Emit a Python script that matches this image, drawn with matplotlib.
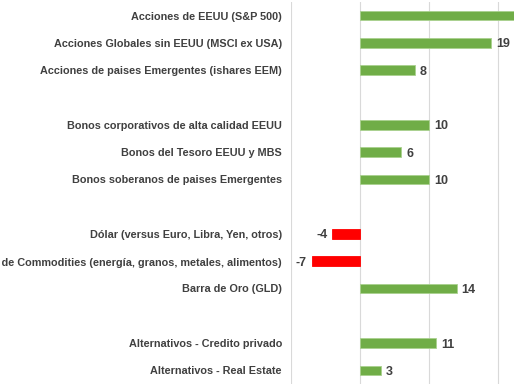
import matplotlib
matplotlib.use("Agg")
import matplotlib.pyplot as plt
import numpy as np

categories = [
    "Acciones de EEUU (S&P 500)",
    "Acciones Globales sin EEUU (MSCI ex USA)",
    "Acciones de paises Emergentes (ishares EEM)",
    "",
    "Bonos corporativos de alta calidad EEUU",
    "Bonos del Tesoro EEUU y MBS",
    "Bonos soberanos de paises Emergentes",
    "",
    "Dólar (versus Euro, Libra, Yen, otros)",
    "Índice de Commodities (energía, granos, metales, alimentos)",
    "Barra de Oro (GLD)",
    "",
    "Alternativos - Credito privado",
    "Alternativos - Real Estate",
]
values = [25, 19, 8, None, 10, 6, 10, None, -4, -7, 14, None, 11, 3]

GREEN = "#70AD47"
RED = "#FF0000"
TXT = "#404040"
FONT = "Liberation Sans"

fig = plt.figure(figsize=(5.14, 3.86), dpi=100)
ax = fig.add_axes([291/514, 2/386, 1 - 291/514, 1 - 4/386])

pos = np.arange(len(categories))
for i, v in enumerate(values):
    if v is None:
        continue
    col = GREEN if v >= 0 else RED
    ax.barh(pos[i], v, height=0.35, color=col, edgecolor="#A9D18E" if v >= 0 else RED,
            linewidth=0.6, zorder=3)
    if v >= 0:
        ax.text(v + 0.7, pos[i], f"{v}", ha="left", va="center_baseline", fontsize=9,
                fontweight="bold", color=TXT, family=FONT)
    else:
        ax.text(v - 0.7, pos[i], f"{v}", ha="right", va="center_baseline", fontsize=9,
                fontweight="bold", color=TXT, family=FONT)

ax.set_xlim(-10, 22.3)
ax.set_ylim(len(categories) - 0.5, -0.5)
ax.set_xticks([-10, 0, 10, 20])
ax.set_xticklabels([])
ax.grid(axis="x", color="#D9D9D9", linewidth=0.8, zorder=0)
ax.set_yticks(pos)
ax.set_yticklabels(categories, fontsize=7.8, color=TXT, family=FONT, fontweight="bold")
ax.tick_params(axis="both", length=0, pad=6.5)
for s in ax.spines.values():
    s.set_visible(False)

fig.savefig("out.png", dpi=100)
